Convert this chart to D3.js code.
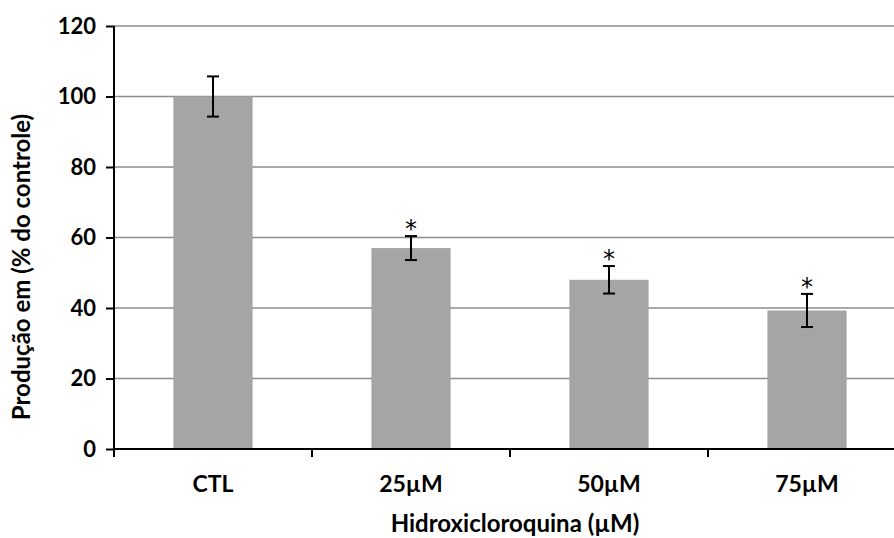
<!DOCTYPE html>
<html>
<head>
<meta charset="utf-8">
<script src="https://cdn.jsdelivr.net/npm/d3@7"></script>
<style>
  html, body { margin: 0; padding: 0; background: #fff; }
  svg { display: block; font-family: Lato, "Open Sans", sans-serif; }
</style>
</head>
<body>
<svg id="chart" width="894" height="538"></svg>
<script>
// Production as % of control, per hydroxychloroquine dose
const categories = ["CTL", "25µM", "50µM", "75µM"];
const means = [100, 57, 48, 39.3];
const errors = [5.7, 3.4, 3.9, 4.7];
const significant = [false, true, true, true];
const yTicks = [0, 20, 40, 60, 80, 100, 120];

const svg = d3.select("#chart");
const margin = { left: 114, top: 26, right: -12, bottom: 89 };
const W = 894, H = 538;
const x0 = margin.left, x1 = W - margin.right;
const y0 = H - margin.bottom, y1 = margin.top;

const x = d3.scaleBand().domain(categories).range([x0, x1]).paddingInner(0.6).paddingOuter(0.3);
const xBand = d3.scaleBand().domain(categories).range([x0, x1]).padding(0);
const y = d3.scaleLinear().domain([0, 120]).range([y0, y1]);

// horizontal gridlines
svg.append("g")
  .selectAll("line")
  .data(yTicks.filter(t => t > 0))
  .join("line")
  .attr("x1", x0).attr("x2", x1)
  .attr("y1", d => y(d)).attr("y2", d => y(d))
  .attr("stroke", "#8c8c8c")
  .attr("stroke-width", 1.6);

// bars
svg.append("g")
  .selectAll("rect")
  .data(categories)
  .join("rect")
  .attr("x", d => x(d))
  .attr("width", x.bandwidth())
  .attr("y", (d, i) => y(means[i]))
  .attr("height", (d, i) => y(0) - y(means[i]))
  .attr("fill", "#a5a5a5");

// error bars and significance marks
const eb = svg.append("g").attr("stroke", "#000").attr("stroke-width", 2);
categories.forEach((c, i) => {
  const cx = x(c) + x.bandwidth() / 2;
  const top = y(means[i] + errors[i]);
  const bot = y(means[i] - errors[i]);
  eb.append("line").attr("x1", cx).attr("x2", cx).attr("y1", top).attr("y2", bot);
  eb.append("line").attr("x1", cx - 6).attr("x2", cx + 6).attr("y1", top).attr("y2", top);
  eb.append("line").attr("x1", cx - 6).attr("x2", cx + 6).attr("y1", bot).attr("y2", bot);
  if (significant[i]) {
    svg.append("text")
      .attr("x", cx)
      .attr("y", top + 1)
      .attr("text-anchor", "middle")
      .style("font-family", "'DejaVu Sans', sans-serif")
      .style("font-size", "24px")
      .attr("fill", "#000")
      .text("*");
  }
});

// y axis
const yAxis = svg.append("g")
  .attr("transform", `translate(${x0},0)`)
  .call(d3.axisLeft(y).tickValues(yTicks).tickSize(8).tickPadding(10));
yAxis.attr("font-family", null).attr("font-size", null);
yAxis.select(".domain").attr("stroke", "#000").attr("stroke-width", 2).attr("d", `M0,${y1}V${y0 + 8}`);
yAxis.selectAll(".tick line").attr("stroke", "#000").attr("stroke-width", 2);
yAxis.selectAll(".tick text")
  .style("font-size", "22px").style("font-weight", "bold").attr("fill", "#000");

// x axis: ticks at band boundaries, labels at band centres
const xAxis = svg.append("g").attr("transform", `translate(0,${y0})`);
xAxis.append("line")
  .attr("x1", x0).attr("x2", x1)
  .attr("stroke", "#000").attr("stroke-width", 2);
xAxis.selectAll("line.tk")
  .data(categories.slice(1).concat(["end"]))
  .join("line")
  .attr("class", "tk")
  .attr("x1", d => d === "end" ? x1 : xBand(d))
  .attr("x2", d => d === "end" ? x1 : xBand(d))
  .attr("y1", 0).attr("y2", 8)
  .attr("stroke", "#000").attr("stroke-width", 2);
xAxis.selectAll("text")
  .data(categories)
  .join("text")
  .attr("x", d => xBand(d) + xBand.bandwidth() / 2)
  .attr("y", 43)
  .attr("text-anchor", "middle")
  .style("font-size", "23px")
  .style("font-weight", "bold")
  .attr("fill", "#000")
  .text(d => d);

// axis titles
svg.append("text")
  .attr("x", 515)
  .attr("y", 532)
  .attr("text-anchor", "middle")
  .style("font-size", "24px")
  .style("font-weight", "bold")
  .attr("fill", "#000")
  .text("Hidroxicloroquina (µM)");

svg.append("text")
  .attr("transform", "translate(30,267) rotate(-90)")
  .attr("text-anchor", "middle")
  .style("font-size", "24px")
  .style("font-weight", "bold")
  .attr("fill", "#000")
  .text("Produção em (% do controle)");
</script>
</body>
</html>
